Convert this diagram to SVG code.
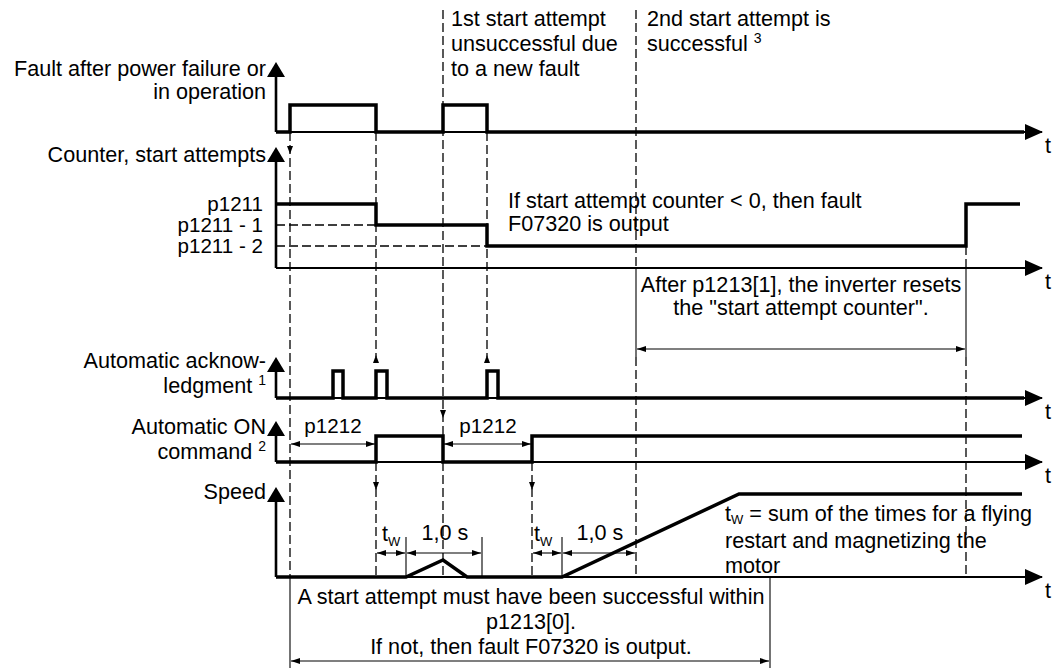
<svg xmlns="http://www.w3.org/2000/svg" width="1062" height="668" viewBox="0 0 1062 668">
<style>
text{font-family:"Liberation Sans",Arial,sans-serif;font-size:21.6px;fill:#000}
.r{text-anchor:end}
.m{text-anchor:middle}
.p{font-size:20.6px}
.sub{font-size:13px}
.sup{font-size:14px}
.sig{fill:none;stroke:#000;stroke-width:3.5;stroke-linejoin:miter;stroke-linecap:butt}
.ax{fill:none;stroke:#000;stroke-width:1.8;marker-end:url(#ta)}
.vax{stroke:#000;stroke-width:2.6}
.dash{fill:none;stroke:#000;stroke-width:1.3;stroke-dasharray:9 4}
.thin{fill:none;stroke:#000;stroke-width:1.1}
.dim{fill:none;stroke:#000;stroke-width:1.1;marker-start:url(#da);marker-end:url(#da)}
.ah{fill:#000}
</style>
<defs>
<marker id="ta" viewBox="0 0 18 16" refX="17" refY="8" markerWidth="18" markerHeight="16" markerUnits="userSpaceOnUse" orient="auto"><path d="M0,0 L18,8 L0,16 z" fill="#000"/></marker>
<marker id="da" viewBox="0 0 9 6" refX="9" refY="3" markerWidth="9" markerHeight="6" markerUnits="userSpaceOnUse" orient="auto-start-reverse"><path d="M0,0 L9,3 L0,6 z" fill="#000"/></marker>
</defs>

<g id="labels-left">
<text class="r" x="266" y="76">Fault after power failure or</text>
<text class="r" x="266" y="99">in operation</text>
<text class="r" x="266" y="162">Counter, start attempts</text>
<text class="r p" x="263" y="211">p1211</text>
<text class="r p" x="263" y="232">p1211 - 1</text>
<text class="r p" x="263" y="253">p1211 - 2</text>
<text class="r" x="266" y="368">Automatic acknow-</text>
<text class="r" x="266" y="393">ledgment <tspan class="sup" dy="-8">1</tspan></text>
<text class="r" x="266" y="434">Automatic ON</text>
<text class="r" x="266" y="459">command <tspan class="sup" dy="-8">2</tspan></text>
<text class="r" x="266" y="499">Speed</text>
</g>

<g id="axes">
<line class="vax" x1="276" y1="76" x2="276" y2="132"/>
<polygon class="ah" points="267,77 285,77 276,62"/>
<line class="vax" x1="276" y1="161" x2="276" y2="268"/>
<polygon class="ah" points="267,162 285,162 276,147"/>
<line class="vax" x1="276" y1="371" x2="276" y2="398"/>
<polygon class="ah" points="267,372 285,372 276,357"/>
<line class="vax" x1="276" y1="435" x2="276" y2="462"/>
<polygon class="ah" points="267,436 285,436 276,421"/>
<line class="vax" x1="276" y1="501" x2="276" y2="577"/>
<polygon class="ah" points="267,502 285,502 276,487"/>
<line class="ax" x1="276" y1="132" x2="1042" y2="132"/>
<line class="ax" x1="276" y1="268" x2="1042" y2="268"/>
<line class="ax" x1="276" y1="398" x2="1042" y2="398"/>
<line class="ax" x1="276" y1="462" x2="1042" y2="462"/>
<line class="ax" x1="276" y1="577" x2="1042" y2="577"/>
<text x="1045" y="153">t</text>
<text x="1045" y="289">t</text>
<text x="1045" y="419">t</text>
<text x="1045" y="483">t</text>
<text x="1045" y="598">t</text>
</g>

<g id="signals">
<polyline id="fault" class="sig" points="276,132 290,132 290,105 376,105 376,132 443,132 443,105 487,105 487,132 1024,132"/>
<polyline id="counter" class="sig" points="276,204 376,204 376,225 487,225 487,246 966,246 966,204 1020,204"/>
<polyline id="ack" class="sig" points="276,398 333,398 333,371 343,371 343,398 376,398 376,371 387,371 387,398 487,398 487,371 498,371 498,398 1024,398"/>
<polyline id="on" class="sig" points="276,462 376,462 376,436 443,436 443,462 532,462 532,436 1022,436"/>
<polyline id="speed" class="sig" points="276,577 406,577 443,560 467,577 562,577 739,494 1022,494"/>
</g>

<g id="connectors">
<line class="dash" x1="276" y1="225" x2="376" y2="225"/>
<line class="dash" x1="276" y1="246" x2="487" y2="246"/>
<line class="dash" x1="290" y1="132" x2="290" y2="577"/>
<line class="thin" x1="290" y1="577" x2="290" y2="668"/>
<polygon class="ah" points="287,146 293,146 290,154"/>
<line class="dash" x1="376" y1="132" x2="376" y2="357"/>
<polygon class="ah" points="373,363 379,363 376,355"/>
<line class="dash" x1="376" y1="462" x2="376" y2="577"/>
<polygon class="ah" points="373,482 379,482 376,490"/>
<line class="dash" x1="443" y1="10" x2="443" y2="436"/>
<polygon class="ah" points="440,410 446,410 443,418"/>
<line class="dash" x1="443" y1="462" x2="443" y2="577"/>
<line class="dash" x1="487" y1="132" x2="487" y2="357"/>
<polygon class="ah" points="484,363 490,363 487,355"/>
<line class="dash" x1="532" y1="462" x2="532" y2="577"/>
<polygon class="ah" points="529,482 535,482 532,490"/>
<line class="dash" x1="636" y1="10" x2="636" y2="268"/>
<line class="thin" x1="636" y1="268" x2="636" y2="357"/>
<line class="dash" x1="636" y1="357" x2="636" y2="577"/>
<line class="dash" x1="966" y1="246" x2="966" y2="268"/>
<line class="thin" x1="966" y1="268" x2="966" y2="357"/>
<line class="dash" x1="966" y1="357" x2="966" y2="577"/>
<line class="dim" x1="637" y1="349" x2="965" y2="349"/>
<line class="dim" x1="291" y1="444" x2="375" y2="444"/>
<line class="dim" x1="444" y1="444" x2="531" y2="444"/>
<line class="thin" x1="406" y1="537" x2="406" y2="577"/>
<line class="thin" x1="482" y1="537" x2="482" y2="577"/>
<line class="thin" x1="562" y1="537" x2="562" y2="577"/>
<line class="dim" x1="377" y1="553" x2="405" y2="553"/>
<line class="dim" x1="407" y1="553" x2="481" y2="553"/>
<line class="dim" x1="533" y1="553" x2="561" y2="553"/>
<line class="dim" x1="563" y1="553" x2="635" y2="553"/>
<line class="thin" x1="770" y1="577" x2="770" y2="668"/>
<line class="dim" x1="291" y1="661" x2="769" y2="661"/>
</g>

<g id="annotations">
<text x="451" y="26">1st start attempt</text>
<text x="451" y="51">unsuccessful due</text>
<text x="451" y="76">to a new fault</text>
<text x="647" y="26">2nd start attempt is</text>
<text x="647" y="51">successful <tspan class="sup" dy="-8">3</tspan></text>
<text x="508" y="208">If start attempt counter &lt; 0, then fault</text>
<text x="508" y="231">F07320 is output</text>
<text class="m" x="801" y="292">After p1213[1], the inverter resets</text>
<text class="m" x="801" y="315">the "start attempt counter".</text>
<text class="m p" x="333" y="433">p1212</text>
<text class="m p" x="488" y="433">p1212</text>
<text x="382" y="541">t<tspan class="sub" dy="5">W</tspan></text>
<text class="m" x="445" y="540">1,0 s</text>
<text x="534" y="541">t<tspan class="sub" dy="5">W</tspan></text>
<text class="m" x="600" y="540">1,0 s</text>
<text x="725" y="521">t<tspan class="sub" dy="3">W</tspan><tspan dy="-3"> = sum of the times for a flying</tspan></text>
<text x="725" y="548">restart and magnetizing the</text>
<text x="725" y="573">motor</text>
<text class="m" x="531" y="604">A start attempt must have been successful within</text>
<text class="m" x="531" y="629">p1213[0].</text>
<text class="m" x="531" y="654">If not, then fault F07320 is output.</text>
</g>
</svg>
